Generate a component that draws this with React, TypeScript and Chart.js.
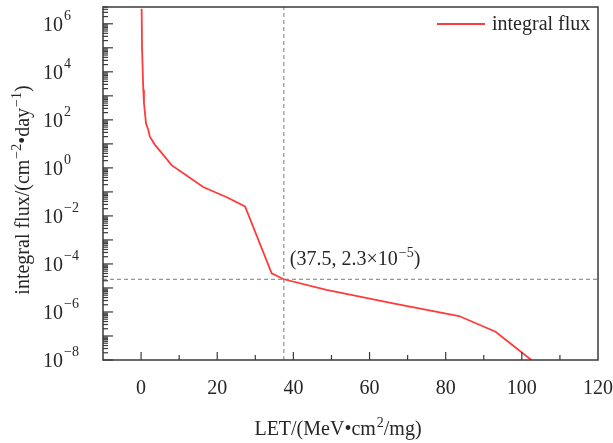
import React, { useEffect, useRef } from "react";
import { Chart, registerables } from "chart.js";

Chart.register(...registerables);

const letValues = [0.15, 0.25, 0.58, 0.76, 1.29, 1.9, 2.3, 3.65, 5.83, 8.0, 11.1, 16.3, 22.5, 27.3, 34.3, 37.5, 48.7, 66.2, 83.5, 93.1, 102.5];
const fluxValues = [4.2e6, 1e5, 1.8e3, 500, 72, 38, 20, 9.1, 3.5, 1.3, 0.6, 0.16, 0.06, 0.025, 4.1e-5, 2.3e-5, 8.3e-6, 2.3e-6, 6.8e-7, 1.5e-7, 1e-8];
const markerPoint = { x: 37.5, y: 2.3e-5 };
const xTickValues = [0, 20, 40, 60, 80, 100, 120];
const yTickExponents = [-8, -6, -4, -2, 0, 2, 4, 6];
const xRange = [-10, 120];
const yRange = [1e-8, 5e6];
const seriesLabel = "integral flux";

const FONT = "'Liberation Serif', 'Times New Roman', serif";
const TEXT = "#262626";

type Seg = { t: string; sup?: boolean };

function segFont(s: Seg) {
  return s.sup ? `14px ${FONT}` : `20px ${FONT}`;
}

function richWidth(ctx: CanvasRenderingContext2D, segs: Seg[]) {
  let w = 0;
  for (const s of segs) {
    ctx.font = segFont(s);
    w += ctx.measureText(s.t).width + (s.sup ? 1 : 0);
  }
  return w;
}

function drawRich(ctx: CanvasRenderingContext2D, segs: Seg[], x: number, y: number) {
  let cx = x;
  ctx.textBaseline = "alphabetic";
  ctx.textAlign = "left";
  for (const s of segs) {
    ctx.font = segFont(s);
    if (s.sup) {
      cx += 1;
      ctx.fillText(s.t, cx, y - 8);
    } else {
      ctx.fillText(s.t, cx, y);
    }
    cx += ctx.measureText(s.t).width;
  }
}

const decorPlugin = {
  id: "decor",
  afterDraw(chart: any) {
    const ctx: CanvasRenderingContext2D = chart.ctx;
    const area = chart.chartArea;
    const xs = chart.scales.x;
    const ys = chart.scales.y;
    ctx.save();
    ctx.fillStyle = TEXT;
    ctx.strokeStyle = "#3a3a3a";

    // frame
    ctx.lineWidth = 1.5;
    ctx.strokeRect(area.left, area.top, area.right - area.left, area.bottom - area.top);

    // x ticks (inward)
    ctx.lineWidth = 1.2;
    for (let v = 0; v < xRange[1]; v += 10) {
      const px = xs.getPixelForValue(v);
      const len = v % 20 === 0 ? 8 : 5;
      ctx.beginPath();
      ctx.moveTo(px, area.bottom);
      ctx.lineTo(px, area.bottom - len);
      ctx.stroke();
    }
    // y ticks (inward)
    for (let e = -8; e <= 6; e++) {
      for (let k = 1; k <= 9; k++) {
        const v = k * Math.pow(10, e);
        if (v > yRange[1] || v < yRange[0]) continue;
        const py = ys.getPixelForValue(v);
        const len = k === 1 ? 10 : 5;
        ctx.beginPath();
        ctx.moveTo(area.left, py);
        ctx.lineTo(area.left + len, py);
        ctx.stroke();
      }
    }

    // x tick labels
    ctx.font = `20px ${FONT}`;
    ctx.textAlign = "center";
    ctx.textBaseline = "alphabetic";
    for (const v of xTickValues) {
      ctx.fillText(String(v), xs.getPixelForValue(v), area.bottom + 34);
    }

    // y tick labels
    for (const e of yTickExponents) {
      const py = ys.getPixelForValue(Math.pow(10, e));
      const sup = e < 0 ? "\u2212" + Math.abs(e) : String(e);
      ctx.save();
      ctx.textBaseline = "alphabetic";
      ctx.font = `20px ${FONT}`;
      ctx.textAlign = "left";
      ctx.fillText("10", 43, py + 7);
      const w = ctx.measureText("10").width;
      ctx.font = `14px ${FONT}`;
      ctx.fillText(sup, 43 + w + 1, py - 4);
      ctx.restore();
    }

    // x title
    const xTitle: Seg[] = [{ t: "LET/(MeV\u2022cm" }, { t: "2", sup: true }, { t: "/mg)" }];
    const xw = richWidth(ctx, xTitle);
    drawRich(ctx, xTitle, 338 - xw / 2, area.bottom + 75);

    // y title (rotated)
    const yTitle: Seg[] = [
      { t: "integral flux/(cm" },
      { t: "\u22122", sup: true },
      { t: "\u2022day" },
      { t: "\u22121", sup: true },
      { t: ")" },
    ];
    const yw = richWidth(ctx, yTitle);
    ctx.save();
    ctx.translate(29, 190);
    ctx.rotate(-Math.PI / 2);
    drawRich(ctx, yTitle, -yw / 2, 0);
    ctx.restore();

    // annotation
    const ax = xs.getPixelForValue(markerPoint.x) + 6;
    const ay = ys.getPixelForValue(markerPoint.y) - 14;
    drawRich(
      ctx,
      [{ t: `(${markerPoint.x}, 2.3\u00d710` }, { t: "\u22125", sup: true }, { t: ")" }],
      ax,
      ay
    );

    // legend
    ctx.strokeStyle = "#ff3b3b";
    ctx.lineWidth = 1.8;
    ctx.beginPath();
    ctx.moveTo(437, 24);
    ctx.lineTo(485, 24);
    ctx.stroke();
    ctx.font = `20px ${FONT}`;
    ctx.textAlign = "left";
    ctx.textBaseline = "alphabetic";
    ctx.fillText(seriesLabel, 492, 30);

    ctx.restore();
  },
};

export default function App() {
  const ref = useRef<HTMLCanvasElement | null>(null);
  useEffect(() => {
    if (!ref.current) return;
    const chart = new Chart(ref.current, {
      type: "line",
      data: {
        datasets: [
          {
            label: "vline",
            data: [
              { x: markerPoint.x, y: yRange[0] },
              { x: markerPoint.x, y: yRange[1] },
            ],
            borderColor: "#7a7a7a",
            borderWidth: 1,
            borderDash: [4, 3],
            pointRadius: 0,
          },
          {
            label: "hline",
            data: [
              { x: xRange[0], y: markerPoint.y },
              { x: xRange[1], y: markerPoint.y },
            ],
            borderColor: "#7a7a7a",
            borderWidth: 1,
            borderDash: [4, 3],
            pointRadius: 0,
          },
          {
            label: seriesLabel,
            data: letValues.map((x, i) => ({ x, y: fluxValues[i] })),
            borderColor: "#ff3b3b",
            borderWidth: 1.8,
            pointRadius: 0,
            tension: 0,
          },
        ],
      },
      options: {
        animation: false,
        responsive: false,
        maintainAspectRatio: false,
        layout: { padding: { left: 103, right: 15, top: 7, bottom: 83 } },
        plugins: { legend: { display: false }, tooltip: { enabled: false } },
        scales: {
          x: { type: "linear", min: xRange[0], max: xRange[1], display: false },
          y: { type: "logarithmic", min: yRange[0], max: yRange[1], display: false },
        },
      },
      plugins: [decorPlugin],
    } as any);
    return () => chart.destroy();
  }, []);
  return (
    <div style={{ position: "fixed", left: 0, top: 0, width: 613, height: 443, background: "#fff" }}>
      <canvas ref={ref} width={613} height={443} style={{ width: 613, height: 443 }} />
    </div>
  );
}
